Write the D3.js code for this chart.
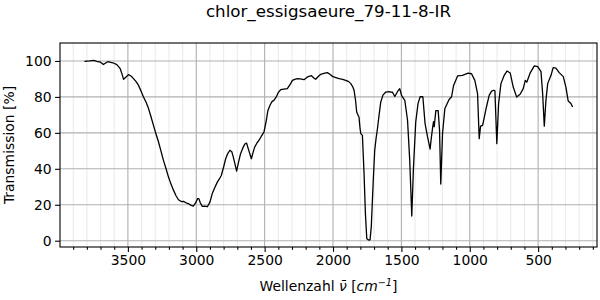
<!DOCTYPE html>
<html><head><meta charset="utf-8">
<script src="https://cdn.jsdelivr.net/npm/d3@7"></script>
<style>body{margin:0;background:#fff}svg{display:block}text{font-family:"DejaVu Sans",sans-serif;fill:#000}</style>
</head><body>
<svg id="c" width="600" height="300"></svg>
<script>
const title = "chlor_essigsaeure_79-11-8-IR";
const wavenumbers = [3818,3780,3750,3728,3700,3679,3660,3647,3610,3581,3556,3540,3532,3515,3496,3475,3459,3440,3422,3405,3386,3367,3349,3331,3313,3295,3276,3258,3240,3221,3203,3185,3166,3148,3130,3110,3093,3075,3057,3040,3022,3005,2990,2981,2970,2956,2940,2919,2900,2883,2865,2846,2830,2817,2800,2785,2770,2754,2740,2729,2715,2705,2690,2676,2660,2645,2632,2615,2597,2585,2573,2555,2542,2525,2505,2490,2476,2460,2445,2432,2415,2400,2383,2360,2334,2310,2297,2280,2261,2240,2212,2187,2158,2140,2127,2110,2090,2060,2041,2020,2004,1980,1956,1930,1907,1885,1870,1855,1846,1835,1827,1815,1810,1803,1797,1785,1773,1763,1753,1740,1729,1720,1712,1703,1695,1685,1675,1663,1651,1635,1614,1590,1578,1565,1548,1529,1512,1499,1475,1455,1439,1424,1412,1395,1378,1363,1343,1327,1309,1290,1280,1272,1265,1260,1248,1231,1221,1212,1199,1182,1151,1133,1119,1089,1053,1012,987,963,943,931,921,906,878,858,840,824,816,802,789,772,748,728,704,682,657,632,609,594,583,559,528,503,479,467,455,443,430,406,390,370,346,316,297,280,260,248];
const transmission = [99.8,100,100.3,99.8,99.3,98,99,99.6,99,98,95.7,92,89.8,91,92.4,91.5,90.2,88.5,86.4,83.5,80,77,73.5,69,64.2,59.5,54.9,49.8,44.7,40,35.4,31.5,28,25,22.8,21.8,21.9,21.1,20.6,19.8,19.3,21,23.4,23.4,21,19.1,19.3,18.9,21.5,26.2,29.5,32.6,34.5,36.3,41,45.6,48.5,50.3,49.5,46.5,42,38.7,44,48.4,51.5,53.8,54.3,50,45.6,49,52.1,54.5,55.8,58,60.4,66,72.5,75.5,77.5,78.1,80,82.5,84,84.3,84.6,87.4,89.2,89.8,90.2,90,89.6,91.1,91.8,90.5,89.8,91.2,92.6,93.2,93.5,92.5,91.4,90.8,90.2,89.8,89.2,88.5,87.4,85.5,83.7,78,71.6,69.5,68.8,63,59.6,58.6,37.3,15,1.1,0.4,0.5,8,22.4,38,50.3,57,62.3,70,77.1,81,82.7,83,82.7,82.6,80.2,82.9,84.6,80.9,78.1,67,44.7,13.7,40.1,66.1,76.4,80.1,80.1,65.3,57.9,51,57.9,62.6,66.3,63.5,72.4,72.4,61.6,31.5,59.7,73.6,78.6,80.1,86.2,91.7,92,93.2,92.9,89.2,81.8,56.8,63.7,64.2,74.4,80.9,83.2,83.7,83.4,54,76.3,87.4,92,94.4,93.3,85.5,79.9,81.5,84.6,89.2,88.2,93.2,97.3,96.9,94.1,81.8,63.7,78.1,87.4,92,96.3,96,93.5,91.3,85.5,77.7,76.3,74.4];
const xMajorTicks = [3500,3000,2500,2000,1500,1000,500];
const xMinorTicks = [3900,3800,3700,3600,3400,3300,3200,3100,2900,2800,2700,2600,2400,2300,2200,2100,1900,1800,1700,1600,1400,1300,1200,1100,900,800,700,600,400,300,200,100];
const yTicks = [0,20,40,60,80,100];

const L=60,R=597,T=43,B=247;
const svg = d3.select("#c");
const x = d3.scaleLinear().domain([3996.5,69.5]).range([L,R]);
const y = d3.scaleLinear().domain([-3.5,110]).range([B,T]);

const g = svg.append("g");
// minor grid
g.selectAll(".mg").data(xMinorTicks).enter().append("line")
 .attr("x1",d=>x(d)).attr("x2",d=>x(d)).attr("y1",T).attr("y2",B)
 .attr("stroke","#ebebeb").attr("stroke-width",1.1);
// major grid
g.selectAll(".gx").data(xMajorTicks).enter().append("line")
 .attr("x1",d=>x(d)).attr("x2",d=>x(d)).attr("y1",T).attr("y2",B)
 .attr("stroke","#b0b0b0").attr("stroke-width",1.1);
g.selectAll(".gy").data(yTicks).enter().append("line")
 .attr("x1",L).attr("x2",R).attr("y1",d=>y(d)).attr("y2",d=>y(d))
 .attr("stroke","#b0b0b0").attr("stroke-width",1.1);

const pts = wavenumbers.map((w,i)=>[w,transmission[i]]);
svg.append("path").datum(pts)
 .attr("d", d3.line().x(d=>x(d[0])).y(d=>y(d[1])))
 .attr("fill","none").attr("stroke","#000").attr("stroke-width",1.3).attr("stroke-linejoin","round");

// frame
svg.append("rect").attr("x",L).attr("y",T).attr("width",R-L).attr("height",B-T)
 .attr("fill","none").attr("stroke","#000").attr("stroke-width",1.1);

// axes
const xa = svg.append("g").attr("transform",`translate(0,${B})`)
 .call(d3.axisBottom(x).tickValues(xMajorTicks).tickSize(4.9).tickPadding(3.5).tickFormat(d3.format("d")));
const xm = svg.append("g").attr("transform",`translate(0,${B})`)
 .call(d3.axisBottom(x).tickValues(xMinorTicks).tickSize(2.8).tickFormat(""));
const ya = svg.append("g").attr("transform",`translate(${L},0)`)
 .call(d3.axisLeft(y).tickValues(yTicks).tickSize(4.9).tickPadding(3.5));
[xa,xm,ya].forEach(a=>{a.select(".domain").remove();a.selectAll("line").attr("stroke","#000").attr("stroke-width",1.1);
 a.selectAll("text").attr("font-size","13.9px").attr("font-family","DejaVu Sans");});

svg.append("text").attr("x",(L+R)/2).attr("y",17).attr("text-anchor","middle")
 .attr("font-size","16.7px").text(title);

const xl = svg.append("text").attr("x",(L+R)/2).attr("y",291).attr("text-anchor","middle").attr("font-size","13.9px");
xl.append("tspan").text("Wellenzahl ");
xl.append("tspan").attr("font-style","italic").text("\u03BD\u0304");
xl.append("tspan").text(" [");
xl.append("tspan").attr("font-style","italic").text("cm");
xl.append("tspan").attr("font-size","9.7px").attr("dy",-5.5).attr("font-style","italic").text("\u22121");
xl.append("tspan").attr("dy",5.5).text("]");

svg.append("text").attr("transform",`translate(14,${(T+B)/2}) rotate(-90)`)
 .attr("text-anchor","middle").attr("font-size","13.9px").text("Transmission [%]");
</script>
</body></html>
